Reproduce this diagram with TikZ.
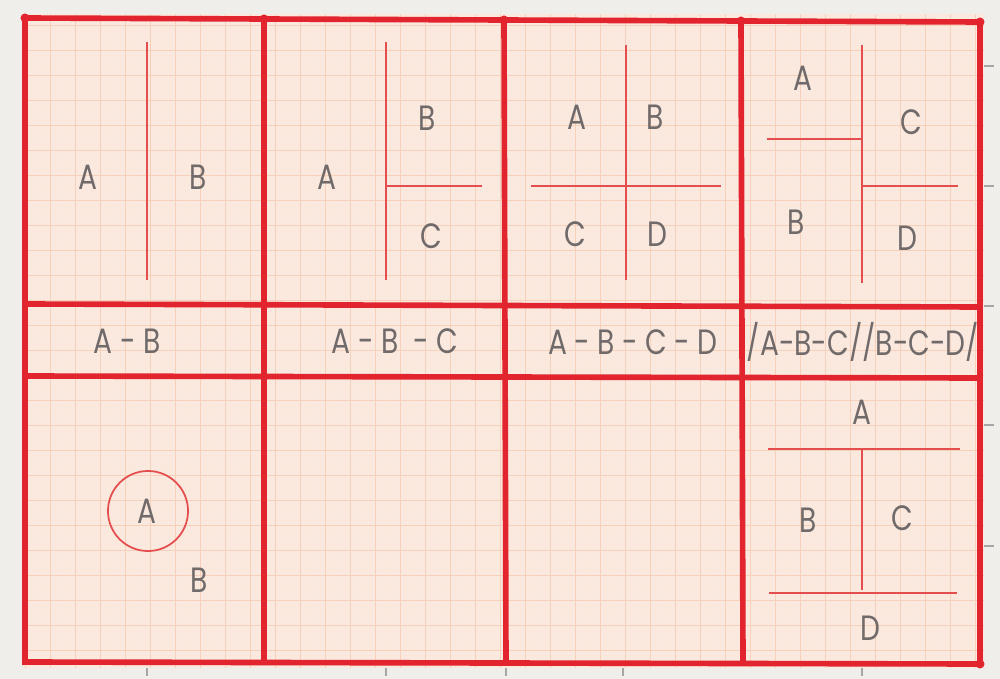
\documentclass[tikz,border=0pt]{standalone}
\usepackage{fontspec}
\setmainfont{Poppins}[FakeStretch=0.8]
\usepackage{xcolor}
\usepackage{tikz}
\definecolor{paper}{RGB}{240,238,234}
\definecolor{sheet}{RGB}{250,233,223}
\definecolor{gridline}{RGB}{245,196,168}
\definecolor{inkred}{RGB}{226,36,46}
\definecolor{penred}{RGB}{228,78,78}
\definecolor{pencil}{RGB}{112,106,106}

\begin{document}
\begin{tikzpicture}[x=0.01cm,y=-0.01cm,
  frame/.style={line width=1.6pt,inkred,line cap=round},
  rule/.style={line width=0.6pt,penred},
  letter/.style={font=\fontsize{10}{12}\selectfont,text=pencil,inner sep=0pt},
  seq/.style={letter}]

  \useasboundingbox (0,0) rectangle (1000,679);
  \fill[paper] (0,0) rectangle (1000,679);
  \fill[sheet] (22,14) rectangle (984,668);
  \draw[gridline!40,line width=0.12pt,step=0.05cm] (22,14) grid (984,668);
  \draw[gridline!80,line width=0.25pt,step=0.25cm] (22,14) grid (984,668);

  % paper ticks
  \foreach \x in {147,386,506,623,862}
    \draw[black!35,line width=0.3pt] (\x,668) -- (\x,676);
  \foreach \y in {66,186,306,425,546}
    \draw[black!35,line width=0.3pt] (984,\y) -- (994,\y);

  % main frame
  \draw[frame] (25,18) -- (980,22) -- (980,664) -- (25,662) -- cycle;
  \draw[frame] (264,19) -- (264,662);
  \draw[frame] (504,20) -- (506,663);
  \draw[frame] (741,21) -- (743,663);
  \draw[frame] (25,304) -- (980,307);
  \draw[frame] (25,376) -- (980,378);
  \foreach \x/\y in {25/18,264/19,504/20,741/21,980/22,980/664}
    \fill[inkred] (\x,\y) circle (0.045cm);

  % panel 1
  \draw[rule] (147,42) -- (147,280);
  \node[letter] (p1a) at (88,177) {A};
  \node[letter] (p1b) at (198,177) {B};

  % panel 2
  \draw[rule] (386,42) -- (386,280);
  \draw[rule] (386,186) -- (482,186);
  \node[letter] (p2a) at (327,177) {A};
  \node[letter] (p2b) at (427,118) {B};
  \node[letter] (p2c) at (431,236) {C};

  % panel 3
  \draw[rule] (626,45) -- (626,280);
  \draw[rule] (531,186) -- (721,186);
  \node[letter] (p3a) at (577,117) {A};
  \node[letter] (p3b) at (655,117) {B};
  \node[letter] (p3c) at (575,234) {C};
  \node[letter] (p3d) at (657,234) {D};

  % panel 4
  \draw[rule] (862,45) -- (862,283);
  \draw[rule] (767,139) -- (862,139);
  \draw[rule] (862,186) -- (958,186);
  \node[letter] (p4a) at (803,78) {A};
  \node[letter] (p4c) at (911,122) {C};
  \node[letter] (p4b) at (796,222) {B};
  \node[letter] (p4d) at (907,238) {D};

  % sequences
  \node[seq] (s1) at (127,341) {A - B};
  \node[seq] (s2) at (395,341) {A - B \ - C};
  \node[seq] (s3) at (633,342) {A - B - C - D};
  \node[seq] (s4) at (863,342) {/A-B-C//B-C-D/};

  % bottom left
  \draw[rule,line width=0.5pt] (148,511) circle (0.4cm);
  \node[letter] (c1a) at (147,511) {A};
  \node[letter] (c1b) at (199,580) {B};

  % bottom right
  \draw[rule] (768,449) -- (960,449);
  \draw[rule] (862,449) -- (862,590);
  \draw[rule] (769,593) -- (957,593);
  \node[letter] (b4a) at (862,412) {A};
  \node[letter] (b4b) at (808,520) {B};
  \node[letter] (b4c) at (902,518) {C};
  \node[letter] (b4d) at (870,628) {D};
\end{tikzpicture}
\end{document}
